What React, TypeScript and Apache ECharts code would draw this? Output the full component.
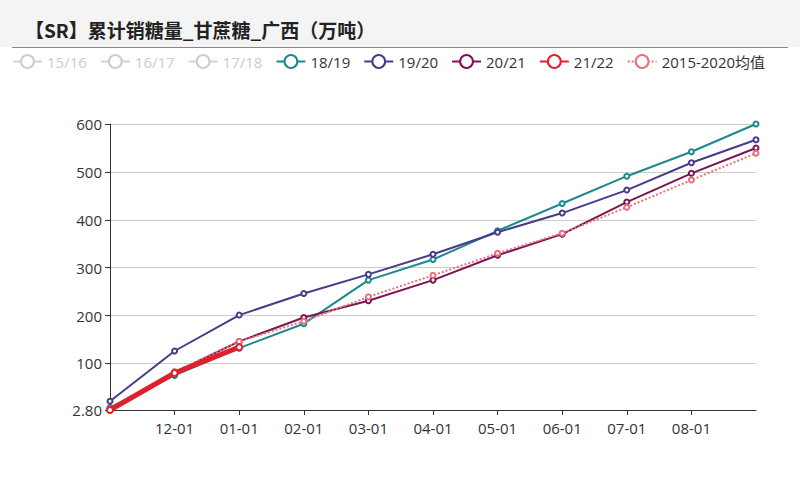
import React, { useEffect, useRef } from "react";
import * as echarts from "echarts";

const categories = ["11-01", "12-01", "01-01", "02-01", "03-01", "04-01", "05-01", "06-01", "07-01", "08-01", "09-01"];
const s1516: number[] = [];
const s1617: number[] = [];
const s1718: number[] = [];
const s1819 = [8, 75, 132, 183, 274, 317, 377, 434, 491, 542, 600];
const s1920 = [21, 126, 201, 246, 286, 328, 374, 414, 462, 519, 567];
const s2021 = [5, 81, 146, 196, 231, 274, 326, 370, 437, 497, 550];
const s2122 = [2.8, 80, 134];
const avg1520 = [5, 83, 146, 188, 239, 284, 330, 372, 426, 483, 539];
const yMin = 2.8;
const yMax = 600;

export default function App() {
  const ref = useRef<HTMLDivElement>(null);
  useEffect(() => {
    document.body.style.margin = "0";
    const chart = echarts.init(ref.current!, null, { renderer: "svg" });
    const mk = (name: string, data: number[], color: string, extra: any = {}) => ({
      name,
      type: "line",
      data,
      symbol: "emptyCircle",
      symbolSize: 5,
      itemStyle: { color },
      lineStyle: { color, width: 2, ...(extra.lineStyle || {}) },
      z: extra.z || 2,
    });
    chart.setOption({
      animation: false,
      backgroundColor: "#ffffff",
      graphic: [
        { type: "rect", shape: { x: 0, y: 0, width: 800, height: 47 }, style: { fill: "#f4f4f4" }, z: -10 },
        { type: "line", shape: { x1: 12, y1: 47.5, x2: 788, y2: 47.5 }, style: { stroke: "#888", lineWidth: 1 } },
      ],
      title: {
        text: "【SR】累计销糖量_甘蔗糖_广西（万吨）",
        left: 20,
        top: 15,
        textStyle: { fontFamily: "Noto Sans CJK SC", fontSize: 19, fontWeight: "bold", color: "#222" },
      },
      legend: {
        left: 12,
        right: 0,
        top: 49,
        padding: [5, 0],
        itemGap: 13,
        itemWidth: 29,
        itemHeight: 16,
        textStyle: { fontFamily: "'Open Sans', 'Noto Sans CJK SC'", fontSize: 15, color: "#333" },
        inactiveColor: "#ccc",
        selected: { "15/16": false, "16/17": false, "17/18": false },
      },
      grid: { left: 110, right: 44, top: 124, bottom: 72 },
      xAxis: {
        type: "category",
        boundaryGap: false,
        data: categories,
        axisLine: { lineStyle: { color: "#333", width: 1 } },
        axisTick: { interval: (i: number) => i > 0 && i < categories.length - 1, lineStyle: { color: "#333" } },
        axisLabel: {
          interval: (i: number) => i > 0 && i < categories.length - 1,
          fontFamily: "Open Sans",
          fontSize: 15,
          color: "#333",
          margin: 10,
        },
        splitLine: { show: false },
      },
      yAxis: {
        type: "value",
        min: yMin,
        max: yMax,
        axisLine: { show: true, lineStyle: { color: "#333" } },
        axisTick: { show: true, lineStyle: { color: "#333" } },
        axisLabel: {
          fontFamily: "Open Sans",
          fontSize: 15,
          color: "#333",
          formatter: (v: number) => (Number.isInteger(v) ? String(v) : v.toFixed(2)),
        },
        splitLine: { lineStyle: { color: "#ccc", width: 1 } },
      },
      series: [
        mk("15/16", s1516, "#c23531"),
        mk("16/17", s1617, "#2f4554"),
        mk("17/18", s1718, "#61a0a8"),
        mk("18/19", s1819, "#1c8a8c"),
        mk("19/20", s1920, "#4a3a8a"),
        mk("20/21", s2021, "#7a1656"),
        { ...mk("21/22", s2122, "#e0202c"), lineStyle: { color: "#e0202c", width: 5 }, symbolSize: 6, z: 5 },
        { ...mk("2015-2020均值", avg1520, "#e8707a"), lineStyle: { color: "#e8707a", width: 2, type: "dotted" }, z: 3 },
      ],
    });
    return () => chart.dispose();
  }, []);
  return <div ref={ref} style={{ width: 800, height: 482 }} />;
}
